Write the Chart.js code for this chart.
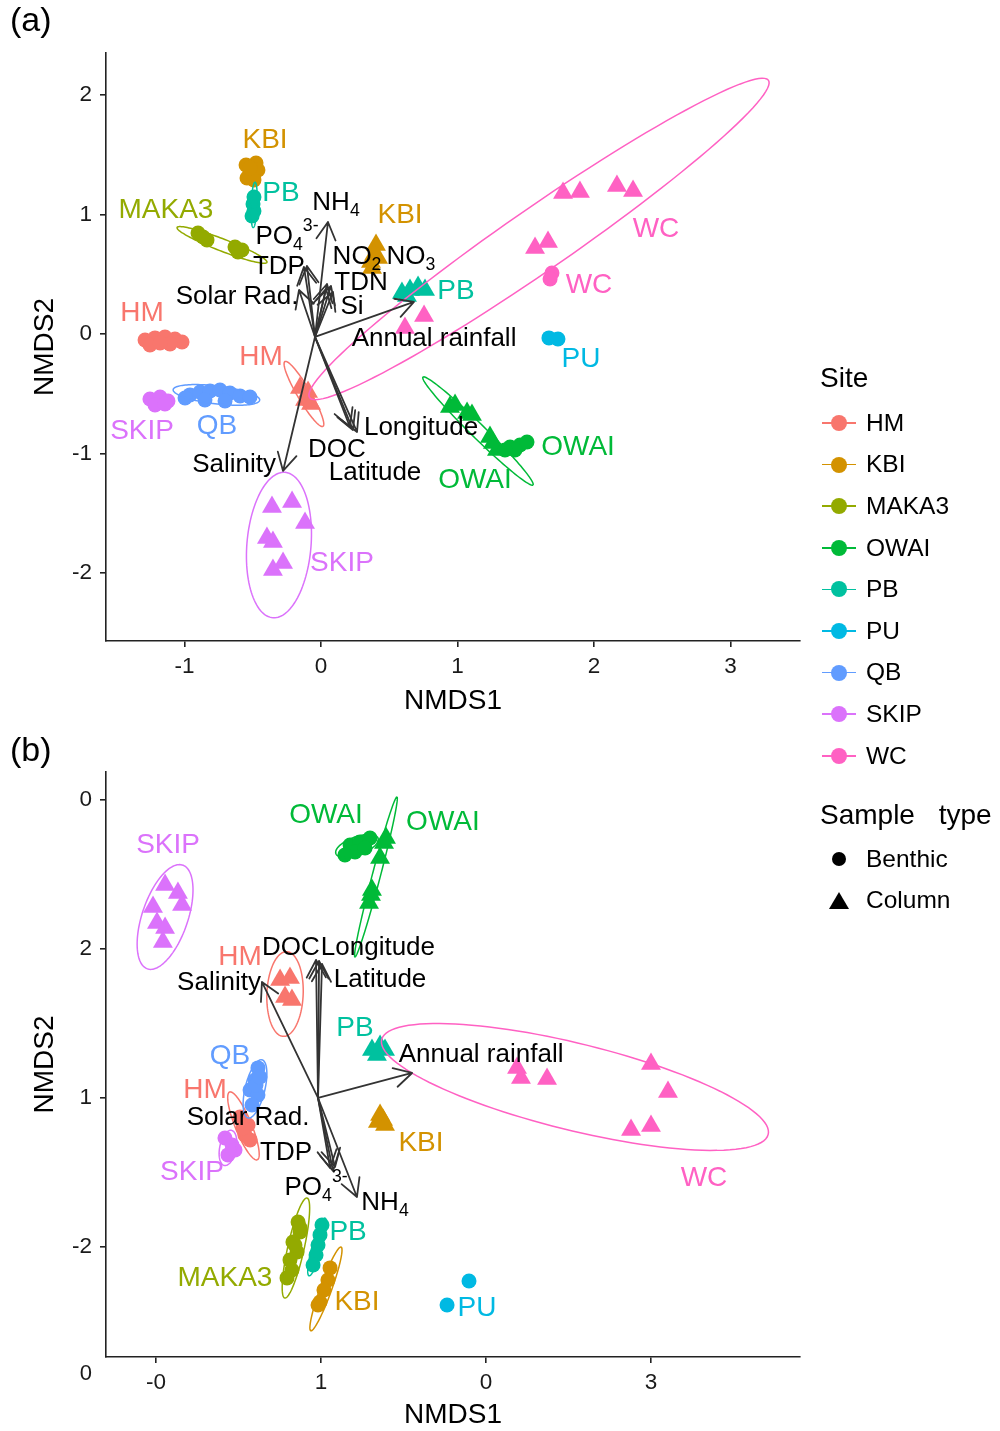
<!DOCTYPE html>
<html>
<head>
<meta charset="utf-8">
<script src="https://cdn.jsdelivr.net/npm/chart.js@4.4.1/dist/chart.umd.min.js"></script>
<style>
  body { margin: 0; background: #fff; }
  #wrap { position: relative; width: 1000px; height: 1431px; overflow: hidden; font-family: "Liberation Sans", Arial, Helvetica, sans-serif; }
  #wrap canvas { position: absolute; left: 0; }
  #chartA { top: 0; }
  #chartB { top: 720px; }
  .lg { position: absolute; color: #000; white-space: pre; }
</style>
</head>
<body>
<div id="wrap">
  <canvas id="chartA" width="1000" height="720"></canvas>
  <canvas id="chartB" width="1000" height="711"></canvas>
  <div id="legend"></div>
</div>
<script>
const FONT = '"Liberation Sans", Arial, Helvetica, sans-serif'

const sites = ['HM', 'KBI', 'MAKA3', 'OWAI', 'PB', 'PU', 'QB', 'SKIP', 'WC']
const siteColors = ['#F8766D', '#D39200', '#93AA00', '#00BA38', '#00C19F', '#00B9E3', '#619CFF', '#DB72FB', '#FF61C3']
const sampleTypes = ['Benthic', 'Column']

// panel (a) axes
const xRangeA = [-1.575, 3.509]
const yRangeA = [-2.569, 2.351]
const xTicksA = [-1, 0, 1, 2, 3]
const xTickLabelsA = ['-1', '0', '1', '2', '3']
const yTicksA = [-2, -1, 0, 1, 2]
const yTickLabelsA = ['-2', '-1', '0', '1', '2']

// panel (b) axes (labels as printed in the figure)
const xRangeB = [-1.303, 2.903]
const yRangeB = [-2.744, 1.19]
const xTicksB = [-1, 0, 1, 2]
const xTickLabelsB = ['-0', '1', '0', '3']
const yTicksB = [1, 0, -1, -2]
const yTickLabelsB = ['0', '2', '1', '-2']
const yExtraLabelsB = [['0', -2.86]]

// site, NMDS1, NMDS2
const benthicA = [
  ['HM', -1.289, -0.05], ['HM', -1.216, -0.033], ['HM', -1.143, -0.025], ['HM', -1.07, -0.042],
  ['HM', -1.018, -0.067], ['HM', -1.253, -0.092], ['HM', -1.106, -0.084], ['HM', -1.179, -0.075],
  ['KBI', -0.549, 1.414], ['KBI', -0.476, 1.431], ['KBI', -0.52, 1.356], ['KBI', -0.462, 1.372],
  ['KBI', -0.542, 1.305], ['KBI', -0.491, 1.289], ['KBI', -0.52, 1.389],
  ['MAKA3', -0.901, 0.845], ['MAKA3', -0.835, 0.787], ['MAKA3', -0.864, 0.812],
  ['MAKA3', -0.63, 0.728], ['MAKA3', -0.579, 0.703], ['MAKA3', -0.608, 0.686],
  ['OWAI', 1.385, -0.946], ['OWAI', 1.458, -0.929], ['OWAI', 1.509, -0.904], ['OWAI', 1.421, -0.971], ['OWAI', 1.348, -0.971],
  ['PB', -0.491, 1.146], ['PB', -0.498, 1.088], ['PB', -0.491, 1.029], ['PB', -0.505, 0.987],
  ['PU', 1.67, -0.033], ['PU', 1.736, -0.042],
  ['QB', -0.96, -0.51], ['QB', -0.886, -0.485], ['QB', -0.813, -0.477], ['QB', -0.74, -0.469], ['QB', -0.667, -0.494],
  ['QB', -0.593, -0.519], ['QB', -0.52, -0.527], ['QB', -0.85, -0.552], ['QB', -0.703, -0.561], ['QB', -0.996, -0.536],
  ['SKIP', -1.253, -0.544], ['SKIP', -1.179, -0.527], ['SKIP', -1.121, -0.561], ['SKIP', -1.216, -0.594], ['SKIP', -1.143, -0.586],
  ['WC', 1.692, 0.51], ['WC', 1.678, 0.46]
]
const columnA = [
  ['HM', -0.154, -0.452], ['HM', -0.095, -0.485], ['HM', -0.117, -0.552], ['HM', -0.073, -0.586],
  ['KBI', 0.403, 0.745], ['KBI', 0.388, 0.661], ['KBI', 0.366, 0.603], ['KBI', 0.418, 0.636], ['KBI', 0.374, 0.552],
  ['OWAI', 0.945, -0.611], ['OWAI', 1.07, -0.661], ['OWAI', 1.238, -0.862], ['OWAI', 1.289, -0.971],
  ['OWAI', 0.982, -0.594], ['OWAI', 1.106, -0.678], ['OWAI', 1.26, -0.912],
  ['PB', 0.593, 0.343], ['PB', 0.652, 0.368], ['PB', 0.711, 0.393], ['PB', 0.762, 0.368], ['PB', 0.63, 0.318],
  ['SKIP', -0.359, -1.448], ['SKIP', -0.212, -1.406], ['SKIP', -0.117, -1.582], ['SKIP', -0.396, -1.707],
  ['SKIP', -0.352, -1.741], ['SKIP', -0.278, -1.916], ['SKIP', -0.352, -1.975],
  ['WC', 1.773, 1.18], ['WC', 1.897, 1.188], ['WC', 2.168, 1.238], ['WC', 2.286, 1.197],
  ['WC', 1.568, 0.72], ['WC', 1.663, 0.77], ['WC', 0.615, 0.05], ['WC', 0.755, 0.15]
]
const benthicB = [
  ['HM', -0.491, -1.13], ['HM', -0.442, -1.184], ['HM', -0.461, -1.251], ['HM', -0.43, -1.284], ['HM', -0.473, -1.204],
  ['KBI', 0.055, -2.145], ['KBI', 0.042, -2.226], ['KBI', 0.018, -2.293], ['KBI', -0.006, -2.374], ['KBI', -0.018, -2.394],
  ['MAKA3', -0.139, -1.836], ['MAKA3', -0.127, -1.903], ['MAKA3', -0.17, -1.971], ['MAKA3', -0.145, -2.038],
  ['MAKA3', -0.188, -2.091], ['MAKA3', -0.176, -2.159], ['MAKA3', -0.206, -2.212], ['MAKA3', -0.158, -1.991], ['MAKA3', -0.127, -1.876],
  ['OWAI', 0.176, 0.699], ['OWAI', 0.236, 0.72], ['OWAI', 0.297, 0.746], ['OWAI', 0.206, 0.652], ['OWAI', 0.145, 0.632], ['OWAI', 0.267, 0.679],
  ['PB', 0.006, -1.856], ['PB', -0.006, -1.923], ['PB', -0.018, -1.991], ['PB', -0.03, -2.058], ['PB', -0.048, -2.125],
  ['PU', 0.897, -2.233], ['PU', 0.764, -2.394],
  ['QB', -0.382, -0.8], ['QB', -0.4, -0.881], ['QB', -0.43, -0.948], ['QB', -0.382, -0.982],
  ['QB', -0.418, -1.049], ['QB', -0.394, -0.915], ['QB', -0.37, -0.861],
  ['SKIP', -0.582, -1.271], ['SKIP', -0.539, -1.318], ['SKIP', -0.564, -1.385], ['SKIP', -0.521, -1.352]
]
const columnB = [
  ['HM', -0.248, -0.208], ['HM', -0.188, -0.195], ['HM', -0.218, -0.323], ['HM', -0.176, -0.343],
  ['KBI', 0.358, -1.116], ['KBI', 0.376, -1.15], ['KBI', 0.345, -1.163], ['KBI', 0.388, -1.184],
  ['OWAI', 0.394, 0.746], ['OWAI', 0.358, 0.612], ['OWAI', 0.303, 0.363], ['OWAI', 0.291, 0.309], ['OWAI', 0.382, 0.713], ['OWAI', 0.309, 0.397],
  ['PB', 0.309, -0.679], ['PB', 0.358, -0.652], ['PB', 0.388, -0.679], ['PB', 0.339, -0.713],
  ['SKIP', -0.945, 0.43], ['SKIP', -0.867, 0.377], ['SKIP', -0.842, 0.296], ['SKIP', -1.018, 0.282],
  ['SKIP', -0.994, 0.175], ['SKIP', -0.945, 0.141], ['SKIP', -0.958, 0.047],
  ['WC', 1.188, -0.8], ['WC', 1.212, -0.868], ['WC', 1.37, -0.874], ['WC', 2.0, -0.773],
  ['WC', 2.103, -0.962], ['WC', 1.879, -1.217], ['WC', 2.0, -1.19]
]

// site, centre x, centre y, semi-axis a, semi-axis b, angle (deg)
const ellipsesA = [
  ['MAKA3', -0.725, 0.745, 0.36, 0.05, -24],
  ['PB', -0.49, 1.08, 0.19, 0.022, 88],
  ['HM', -0.125, -0.502, 0.305, 0.05, -63],
  ['QB', -0.766, -0.51, 0.32, 0.075, -8],
  ['SKIP', -0.308, -1.766, 0.61, 0.235, 86],
  ['WC', 1.597, 0.795, 2.142, 0.25, 38.4],
  ['OWAI', 1.15, -0.812, 0.605, 0.055, -48.3]
]
const ellipsesB = [
  ['SKIP', -0.945, 0.215, 0.365, 0.14, 73.6],
  ['OWAI', 0.218, 0.693, 0.138, 0.06, 23],
  ['OWAI', 0.333, 0.484, 0.553, 0.025, 76.7],
  ['HM', -0.218, -0.303, 0.285, 0.11, 88],
  ['HM', -0.47, -1.19, 0.243, 0.05, -70],
  ['QB', -0.4, -0.941, 0.2, 0.06, 78],
  ['SKIP', -0.564, -1.338, 0.12, 0.05, 80],
  ['MAKA3', -0.152, -2.011, 0.343, 0.05, 78.7],
  ['PB', -0.024, -2.004, 0.2, 0.03, 76],
  ['KBI', 0.03, -2.286, 0.296, 0.035, 72],
  ['WC', 1.539, -0.928, 1.214, 0.29, -15.4]
]

// environmental vectors: origin and arrow tips
const originA = [-0.044, -0.025]
const arrowsA = [
  ['NH4', 0.051, 0.937], ['PO4', -0.125, 0.561], ['TDP', -0.103, 0.569], ['Solar Rad.', -0.161, 0.368],
  ['NO2', 0.044, 0.418], ['NO3', 0.073, 0.402], ['TDN', 0.037, 0.377], ['Si', 0.088, 0.351],
  ['Annual rainfall', 0.681, 0.268], ['Longitude', 0.264, -0.82], ['DOC', 0.212, -0.778],
  ['Latitude', 0.234, -0.803], ['Salinity', -0.278, -1.146]
]
const originB = [-0.018, -1.002]
const arrowsB = [
  ['Salinity', -0.358, -0.222], ['DOC', -0.03, -0.074], ['Longitude', -0.012, -0.081], ['Latitude', 0.006, -0.101],
  ['Annual rainfall', 0.552, -0.834], ['Solar Rad.', 0.055, -1.473], ['TDP', 0.073, -1.493],
  ['PO4', 0.085, -1.466], ['NH4', 0.218, -1.668]
]

// label text (_ subscript, ^ superscript), x, y
const envLabelsA = [
  ['NH_4', 0.11, 1.096], ['PO_4^3-', -0.249, 0.812], ['NO_2', 0.264, 0.644], ['NO_3', 0.659, 0.644],
  ['TDP', -0.308, 0.561], ['TDN', 0.293, 0.427], ['Solar Rad.', -0.615, 0.31], ['Si', 0.227, 0.226],
  ['Annual rainfall', 0.828, -0.042], ['Longitude', 0.733, -0.787], ['DOC', 0.117, -0.971],
  ['Latitude', 0.396, -1.163], ['Salinity', -0.637, -1.096]
]
const envLabelsB = [
  ['DOC', -0.182, 0.007], ['Longitude', 0.345, 0.007], ['Latitude', 0.358, -0.208], ['Salinity', -0.618, -0.229],
  ['Annual rainfall', 0.97, -0.713], ['Solar Rad.', -0.442, -1.137], ['TDP', -0.212, -1.372],
  ['PO_4^3-', -0.03, -1.607], ['NH_4', 0.388, -1.708]
]
const siteLabelsA = [
  ['KBI', -0.41, 1.623], ['PB', -0.293, 1.18], ['MAKA3', -1.136, 1.038], ['KBI', 0.579, 0.996],
  ['WC', 2.454, 0.879], ['WC', 1.963, 0.41], ['PB', 0.989, 0.36], ['HM', -1.311, 0.176],
  ['HM', -0.44, -0.192], ['PU', 1.905, -0.209], ['SKIP', -1.311, -0.812], ['QB', -0.762, -0.77],
  ['OWAI', 1.883, -0.946], ['OWAI', 1.128, -1.222], ['SKIP', 0.154, -1.916]
]
const siteLabelsB = [
  ['SKIP', -0.927, 0.699], ['OWAI', 0.03, 0.901], ['OWAI', 0.739, 0.854], ['HM', -0.491, -0.054],
  ['PB', 0.206, -0.531], ['QB', -0.552, -0.72], ['HM', -0.703, -0.948], ['KBI', 0.606, -1.305],
  ['SKIP', -0.782, -1.5], ['WC', 2.321, -1.54], ['PB', 0.164, -1.903], ['MAKA3', -0.582, -2.213],
  ['KBI', 0.218, -2.374], ['PU', 0.945, -2.414]
]

function pointSets(benthic, column) {
  var sets = []
  sites.forEach(function (s, i) {
    [[benthic, 'circle', 7.5], [column, 'triangle', 11.5]].forEach(function (t) {
      var pts = t[0].filter(function (d) { return d[0] === s }).map(function (d) { return { x: d[1], y: d[2] } })
      if (!pts.length) return
      sets.push({
        data: pts,
        pointStyle: t[1],
        pointRadius: t[2],
        pointHoverRadius: t[2],
        backgroundColor: siteColors[i],
        borderWidth: 0
      })
    })
  })
  return sets
}

// draws "NH_4" / "PO_4^3-" style labels centred on (cx, cy)
function richText(ctx, text, cx, cy, size, color) {
  var parts = []
  text.replace(/([_^]?)([^_^]+)/g, function (m, k, t) { parts.push([k, t]) })
  var widths = parts.map(function (p) {
    ctx.font = (p[0] ? size * 0.68 : size) + 'px ' + FONT
    return ctx.measureText(p[1]).width
  })
  var x = cx - widths.reduce(function (a, b) { return a + b }, 0) / 2
  ctx.fillStyle = color
  ctx.textAlign = 'left'
  ctx.textBaseline = 'middle'
  parts.forEach(function (p, i) {
    ctx.font = (p[0] ? size * 0.68 : size) + 'px ' + FONT
    var dy = p[0] === '_' ? size * 0.32 : p[0] === '^' ? -size * 0.4 : 0
    ctx.fillText(p[1], x, cy + dy)
    x += widths[i]
  })
}

function overlay(p) {
  return {
    id: 'overlay',
    afterDatasetsDraw(chart) {
      var ctx = chart.ctx
      var xs = chart.scales.x, ys = chart.scales.y
      var px = function (v) { return xs.getPixelForValue(v) }
      var py = function (v) { return ys.getPixelForValue(v) }
      ctx.save()

      p.ellipses.forEach(function (e) {
        var th = e[5] * Math.PI / 180
        ctx.beginPath()
        for (var k = 0; k <= 120; k++) {
          var t = k / 120 * 2 * Math.PI
          var ex = e[1] + e[3] * Math.cos(t) * Math.cos(th) - e[4] * Math.sin(t) * Math.sin(th)
          var ey = e[2] + e[3] * Math.cos(t) * Math.sin(th) + e[4] * Math.sin(t) * Math.cos(th)
          if (k) ctx.lineTo(px(ex), py(ey))
          else ctx.moveTo(px(ex), py(ey))
        }
        ctx.strokeStyle = siteColors[sites.indexOf(e[0])]
        ctx.lineWidth = 1.5
        ctx.stroke()
      })

      var ox = px(p.origin[0]), oy = py(p.origin[1])
      ctx.strokeStyle = '#333'
      ctx.lineWidth = 1.8
      ctx.lineCap = 'round'
      ctx.lineJoin = 'round'
      p.arrows.forEach(function (a) {
        var tx = px(a[1]), ty = py(a[2])
        var ang = Math.atan2(ty - oy, tx - ox)
        ctx.beginPath()
        ctx.moveTo(ox, oy)
        ctx.lineTo(tx, ty)
        ctx.moveTo(tx - 20 * Math.cos(ang - 0.5), ty - 20 * Math.sin(ang - 0.5))
        ctx.lineTo(tx, ty)
        ctx.lineTo(tx - 20 * Math.cos(ang + 0.5), ty - 20 * Math.sin(ang + 0.5))
        ctx.stroke()
      })

      p.envLabels.forEach(function (l) { richText(ctx, l[0], px(l[1]), py(l[2]), 26, '#000') })
      p.siteLabels.forEach(function (l) { richText(ctx, l[0], px(l[1]), py(l[2]), 28, siteColors[sites.indexOf(l[0])]) })

      // stray tick label printed below the y axis in panel (b)
      ctx.font = '22px ' + FONT
      ctx.fillStyle = '#1a1a1a'
      ctx.textAlign = 'right'
      ctx.textBaseline = 'middle'
      p.extraY.forEach(function (l) { ctx.fillText(l[0], xs.left - 14, py(l[1])) })
      ctx.restore()
    }
  }
}

function axis(range, ticks, labels, isX, size) {
  return {
    type: 'linear',
    min: range[0],
    max: range[1],
    afterBuildTicks: function (s) { s.ticks = ticks.map(function (v) { return { value: v } }) },
    afterFit: function (s) { if (isX) s.height = size; else s.width = size },
    ticks: {
      autoSkip: false,
      maxRotation: 0,
      padding: isX ? 6 : 8,
      color: '#1a1a1a',
      font: { size: 22.5, family: FONT },
      callback: function (v, i) { return labels[i] }
    },
    grid: { display: true, drawOnChartArea: false, drawTicks: true, tickLength: 6, color: '#222', lineWidth: 1.6 },
    border: { display: true, color: '#222', width: 1.6 },
    title: {
      display: true,
      text: isX ? 'NMDS1' : 'NMDS2',
      color: '#000',
      font: { size: 28, family: FONT, lineHeight: 1 },
      padding: isX ? { top: 0, bottom: 0 } : { top: 21, bottom: 0 }
    }
  }
}

function makeChart(id, tag, titlePad, points, scales, extra) {
  return new Chart(document.getElementById(id), {
    type: 'scatter',
    data: { datasets: points },
    options: {
      responsive: false,
      animation: false,
      events: [],
      layout: { padding: { left: 10, right: 200, top: 0, bottom: 0 } },
      scales: scales,
      plugins: {
        legend: { display: false },
        tooltip: { enabled: false },
        title: {
          display: true,
          text: tag,
          align: 'start',
          color: '#000',
          font: { size: 34, family: FONT, weight: 'normal', lineHeight: 1 },
          padding: titlePad
        }
      }
    },
    plugins: [overlay(extra)]
  })
}

var xa = axis(xRangeA, xTicksA, xTickLabelsA, true, 79)
xa.title.padding = { top: 0, bottom: 5 }
makeChart('chartA', '(a)', { top: 5, bottom: 14 }, pointSets(benthicA, columnA),
  { x: xa, y: axis(yRangeA, yTicksA, yTickLabelsA, false, 96) },
  { ellipses: ellipsesA, origin: originA, arrows: arrowsA, envLabels: envLabelsA, siteLabels: siteLabelsA, extraY: [] })

var xb = axis(xRangeB, xTicksB, xTickLabelsB, true, 74)
xb.title.padding = { top: 0, bottom: 2 }
makeChart('chartB', '(b)', { top: 15, bottom: 3 }, pointSets(benthicB, columnB),
  { x: xb, y: axis(yRangeB, yTicksB, yTickLabelsB, false, 96) },
  { ellipses: ellipsesB, origin: originB, arrows: arrowsB, envLabels: envLabelsB, siteLabels: siteLabelsB, extraY: yExtraLabelsB })

// legend
var leg = document.getElementById('legend')
function legText(txt, left, cy, size, extra) {
  var d = document.createElement('div')
  d.className = 'lg'
  d.textContent = txt
  d.style.left = left + 'px'
  d.style.top = (cy - size / 2) + 'px'
  d.style.fontSize = size + 'px'
  d.style.lineHeight = size + 'px'
  if (extra) d.style.wordSpacing = extra
  leg.appendChild(d)
}
function legShape(css) {
  var d = document.createElement('div')
  d.style.position = 'absolute'
  Object.keys(css).forEach(function (k) { d.style[k] = css[k] })
  leg.appendChild(d)
}
legText('Site', 820, 378, 28)
sites.forEach(function (s, i) {
  var cy = 423 + i * 41.6
  legShape({ left: '822px', top: (cy - 0.75) + 'px', width: '34px', height: '1.5px', background: siteColors[i] })
  legShape({ left: '831px', top: (cy - 8) + 'px', width: '16px', height: '16px', borderRadius: '50%', background: siteColors[i] })
  legText(s, 866, cy, 24.5)
})
legText('Sample type', 820, 815, 28, '16px')
sampleTypes.forEach(function (s, i) {
  var cy = 859 + i * 41.6
  if (i === 0) legShape({ left: '832px', top: (cy - 7) + 'px', width: '14px', height: '14px', borderRadius: '50%', background: '#000' })
  else legShape({ left: '829px', top: (cy - 9) + 'px', width: 0, height: 0, borderLeft: '10px solid transparent', borderRight: '10px solid transparent', borderBottom: '17px solid #000' })
  legText(s, 866, cy, 24.5)
})
</script>
